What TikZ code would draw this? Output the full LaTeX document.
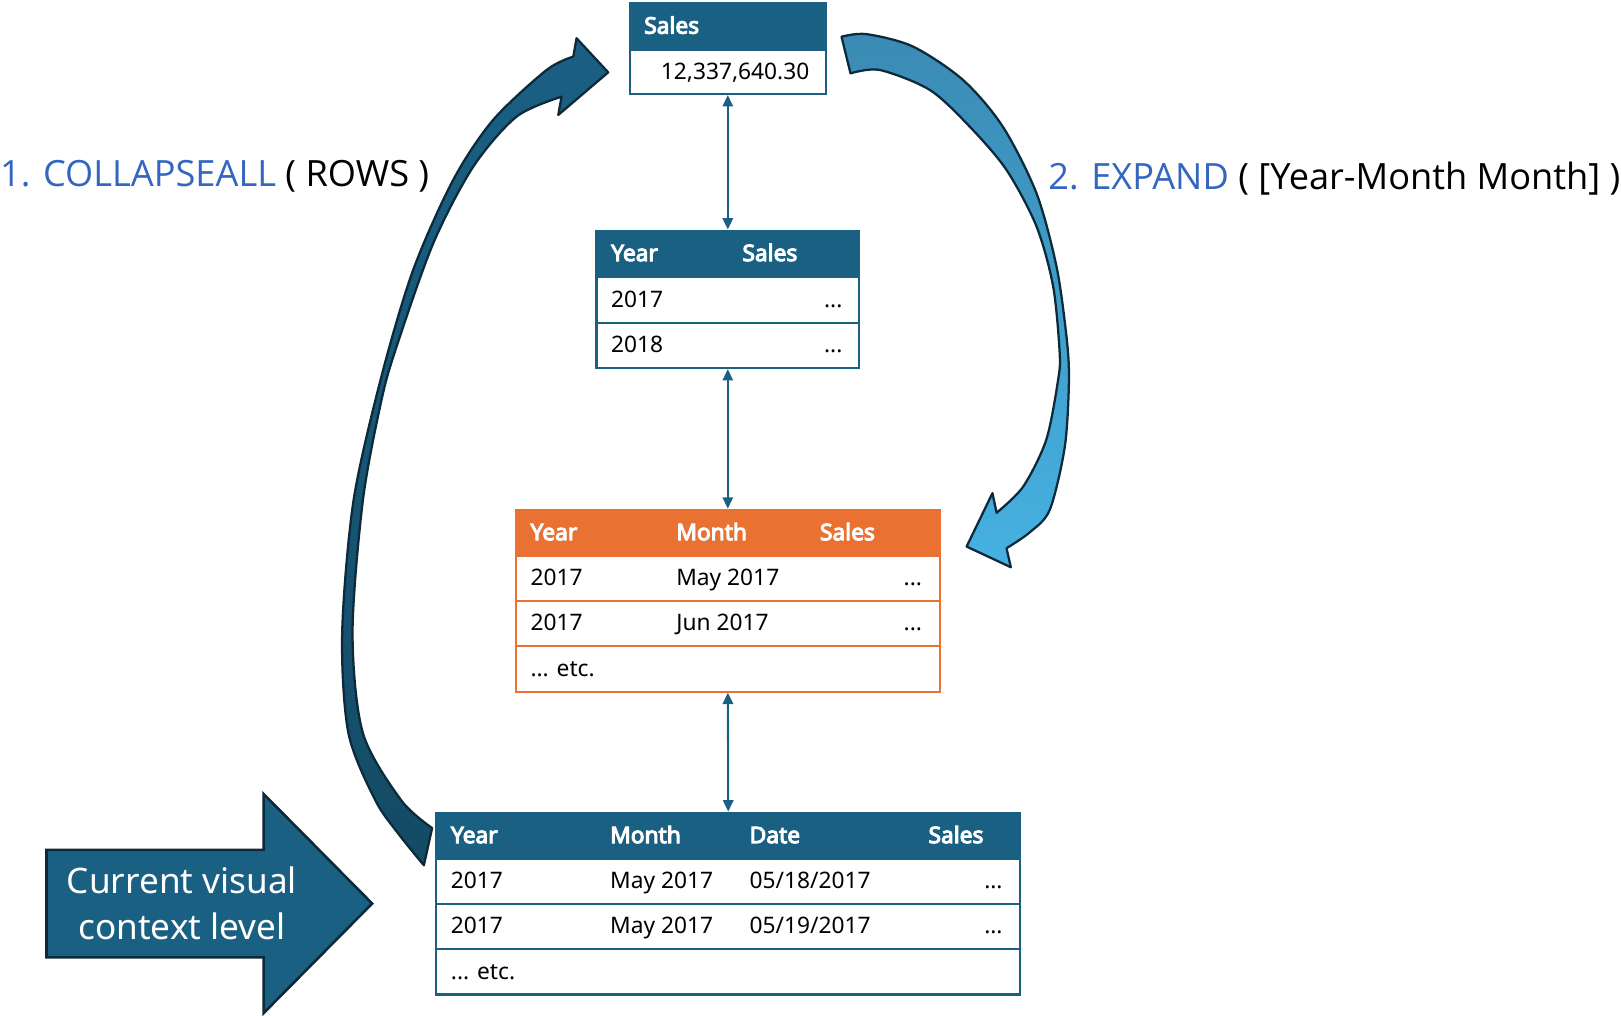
\documentclass[tikz,border=0pt]{standalone}
\usepackage{fontspec}
\setmainfont{Noto Sans}
\newfontfamily\headfont{Noto Sans}[FakeBold=4.5]
\newfontfamily\labelfont{Open Sans}
\usepackage{xcolor}
\definecolor{ctxBlue}{HTML}{1A6083}
\definecolor{ctxOrange}{HTML}{E97132}
\definecolor{ctxLabel}{HTML}{3366C0}
\definecolor{ctxEdge}{HTML}{0C2A3A}
\definecolor{ctxDeep}{HTML}{144B65}
\definecolor{ctxSteel}{HTML}{3A8BB4}
\definecolor{ctxSky}{HTML}{46B1E1}
\usetikzlibrary{arrows.meta,positioning}
\tikzset{
    headbar/.style={
        rectangle,
        fill=#1,
        draw=#1,
        line width=2pt,
        anchor=north west,
        minimum height=45pt,
        inner sep=0pt
    },
    headbar/.default=ctxBlue,
    rowbox/.style={
        rectangle,
        fill=white,
        draw=#1,
        line width=2pt,
        anchor=north west,
        minimum height=44pt,
        inner sep=0pt
    },
    rowbox/.default=ctxBlue,
    tbltext/.style={
        font=\fontsize{22}{26}\selectfont,
        text height=16pt,
        text depth=0pt,
        inner sep=0pt,
        anchor=west
    },
    headtext/.style={
        tbltext,
        font=\headfont\fontsize{22}{26}\selectfont,
        text=white
    },
    dotstext/.style={
        tbltext,
        anchor=east
    },
    link/.style={
        {Triangle[length=11pt,width=10pt]}-{Triangle[length=11pt,width=10pt]},
        line width=2pt,
        color=ctxBlue
    },
    bentarrow/.style={
        draw=ctxEdge,
        line width=2.2pt,
        line join=round
    },
    blockarrow/.style={
        draw=ctxEdge,
        fill=ctxBlue,
        line width=2.5pt,
        line join=miter
    },
    steplabel/.style={
        font=\labelfont\fontsize{35}{40}\selectfont,
        inner sep=0pt,
        anchor=base west
    }
}
\begin{document}
\begin{tikzpicture}[x=1pt, y=-1pt]
    \useasboundingbox (0,0) rectangle (1568,982);

    % Grand total
    \node[headbar, minimum width=190pt] (tot-h) at (608,2) {};
    \node[rowbox, minimum width=190pt, minimum height=43pt] (tot-r1) at (608,47) {};
    \node[headtext] (tot-c1) at (623,24.5) {Sales};
    \node[dotstext] (tot-v1) at (783,68.5) {12,337,640.30};

    % Year level
    \node[headbar, minimum width=254pt] (yr-h) at (576,222) {};
    \node[rowbox, minimum width=254pt] (yr-r1) at (576,267) {};
    \node[rowbox, minimum width=254pt] (yr-r2) at (576,311) {};
    \node[headtext] (yr-c1) at (591,244.5) {Year};
    \node[headtext] (yr-c2) at (718,244.5) {Sales};
    \node[tbltext] (yr-a1) at (591,289) {2017};
    \node[dotstext] (yr-b1) at (815,289) {...};
    \node[tbltext] (yr-a2) at (591,333) {2018};
    \node[dotstext] (yr-b2) at (815,333) {...};

    % Month level (orange)
    \node[headbar=ctxOrange, minimum width=410pt] (mo-h) at (498,492) {};
    \node[rowbox=ctxOrange, minimum width=410pt, minimum height=43pt] (mo-r1) at (498,537) {};
    \node[rowbox=ctxOrange, minimum width=410pt] (mo-r2) at (498,580) {};
    \node[rowbox=ctxOrange, minimum width=410pt] (mo-r3) at (498,624) {};
    \node[headtext] (mo-c1) at (513,514.5) {Year};
    \node[headtext] (mo-c2) at (654,514.5) {Month};
    \node[headtext] (mo-c3) at (793,514.5) {Sales};
    \node[tbltext] (mo-a1) at (513,558.5) {2017};
    \node[tbltext] (mo-m1) at (654,558.5) {May 2017};
    \node[dotstext] (mo-b1) at (892,558.5) {...};
    \node[tbltext] (mo-a2) at (513,602) {2017};
    \node[tbltext] (mo-m2) at (654,602) {Jun 2017};
    \node[dotstext] (mo-b2) at (892,602) {...};
    \node[tbltext] (mo-etc) at (513,646) {... etc.};

    % Date level
    \node[headbar, minimum width=565pt] (dt-h) at (421,785) {};
    \node[rowbox, minimum width=565pt, minimum height=43pt] (dt-r1) at (421,830) {};
    \node[rowbox, minimum width=565pt] (dt-r2) at (421,873) {};
    \node[rowbox, minimum width=565pt] (dt-r3) at (421,917) {};
    \node[headtext] (dt-c1) at (436,807.5) {Year};
    \node[headtext] (dt-c2) at (590,807.5) {Month};
    \node[headtext] (dt-c3) at (725,807.5) {Date};
    \node[headtext] (dt-c4) at (898,807.5) {Sales};
    \node[tbltext] (dt-a1) at (436,851.5) {2017};
    \node[tbltext] (dt-m1) at (590,851.5) {May 2017};
    \node[tbltext] (dt-d1) at (725,851.5) {05/18/2017};
    \node[dotstext] (dt-b1) at (970,851.5) {...};
    \node[tbltext] (dt-a2) at (436,895) {2017};
    \node[tbltext] (dt-m2) at (590,895) {May 2017};
    \node[tbltext] (dt-d2) at (725,895) {05/19/2017};
    \node[dotstext] (dt-b2) at (970,895) {...};
    \node[tbltext] (dt-etc) at (436,939) {... etc.};

    % Links between levels
    \foreach \upper/\lower in {tot-r1/yr-h, yr-r2/mo-h, mo-r3/dt-h} {
        \draw[link] (\upper) -- (\lower);
    }

    % Collapse arrow
    \path[bentarrow, top color=ctxBlue, bottom color=ctxDeep]
        plot[smooth] coordinates {(410,837) (385,806) (363,774) (337,709) (331,612)
            (342,484) (369,364) (399.7,261) (438.4,174) (477,116) (528.7,67.7) (554.5,54.8)}
        -- (557.7,37) -- (588.3,70) -- (540,111.2) -- (543.2,93.5)
        -- plot[smooth] coordinates {(543.2,93.5) (499.7,112.8) (457.8,161.2) (419.1,235.3)
            (383.6,335.3) (369,387) (351,484) (341,612) (351,709) (388,774) (418,801)}
        -- cycle;

    % Expand arrow
    \path[bentarrow, top color=ctxSteel, bottom color=ctxSky]
        plot[smooth] coordinates {(814,35.5) (838,33) (883,45) (931.6,77.4) (970,122.5)
            (1002.6,187) (1022,258) (1031.6,325.6) (1034,367.5) (1030,432) (1015.5,493)
            (996,515) (973.6,530.3)}
        -- (977.8,548.7) -- (935,528.7) -- (960,477) -- (964,496)
        -- plot[smooth] coordinates {(964,496) (989.7,470.7) (1012,425.5) (1023.5,367.5)
            (1025,341) (1018.7,277) (1002.6,219) (973.6,164.4) (938,122.5) (899.4,87)
            (851,67.7) (822.7,71)}
        -- cycle;

    % Current level marker
    \draw[blockarrow] (45,822) -- (255,822) -- (255,768) -- (360,874)
        -- (255,980) -- (255,926) -- (45,926) -- cycle;
    \node[text=white, align=center, font=\fontsize{34}{44}\selectfont, inner sep=0pt]
        (current) at (176,874) {Current visual\\context level};

    % Function labels
    \node[steplabel] (collapse) at (0,180) {\textcolor{ctxLabel}{1. COLLAPSEALL} ( ROWS )};
    \node[steplabel] (expand) at (1014,183) {\textcolor{ctxLabel}{2. EXPAND} ( [Year-Month Month] )};
\end{tikzpicture}
\end{document}
